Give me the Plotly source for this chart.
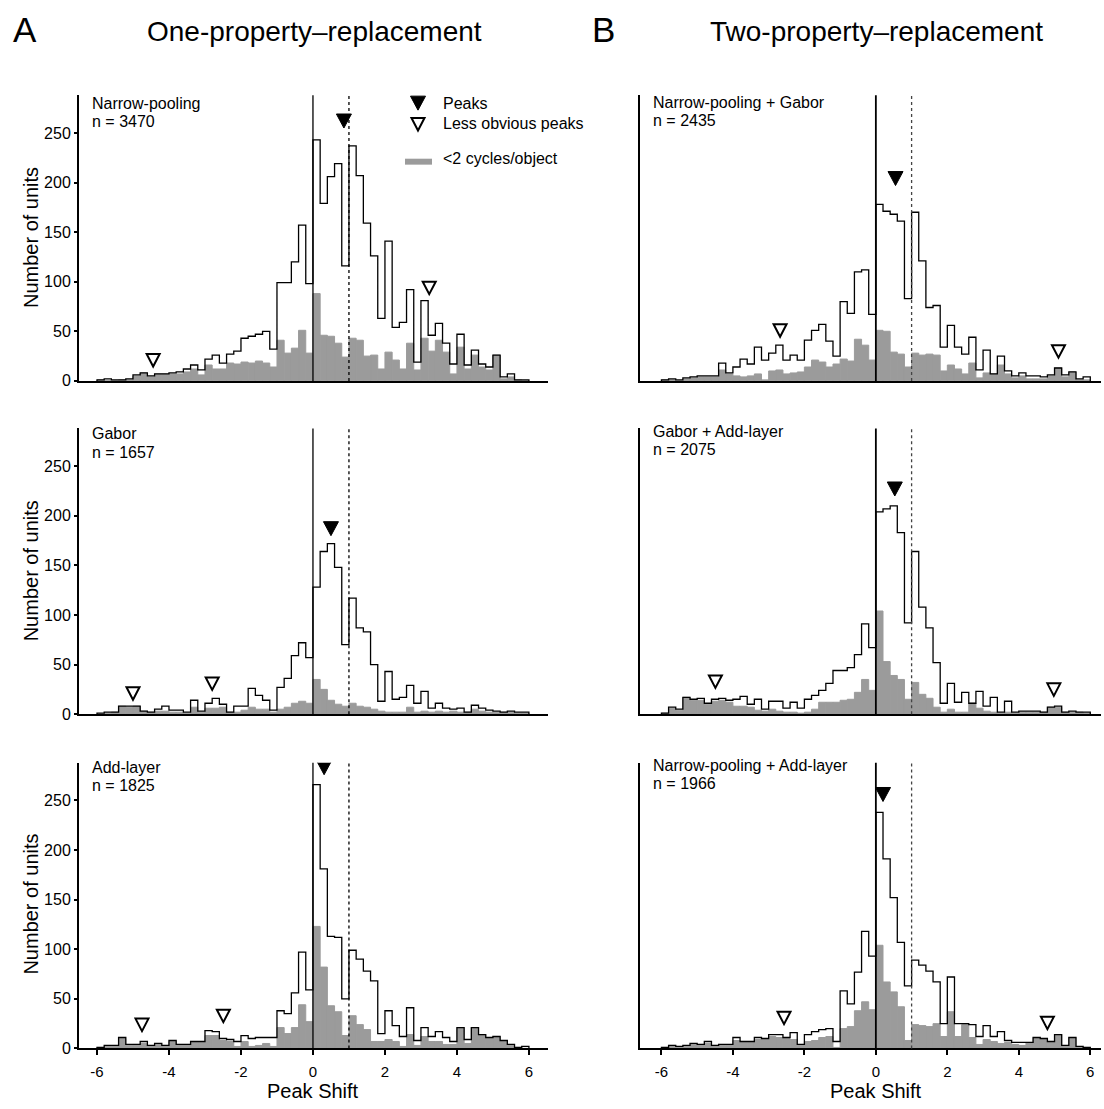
import numpy as np
import plotly.graph_objects as go

# ---------------- data ----------------
bin_edges = np.round(np.arange(-6.0, 6.0001, 0.2), 2)   # 60 bins of width 0.2

panel_names = ["Narrow-pooling", "Narrow-pooling + Gabor", "Gabor",
               "Gabor + Add-layer", "Add-layer", "Narrow-pooling + Add-layer"]
panel_n = ["n = 3470", "n = 2435", "n = 1657", "n = 2075", "n = 1825", "n = 1966"]

all_narrow = [1,2,1,1,2,6,8,5,7,7, 8,9,12,16,11,22,26,18,27,30,
              43,45,47,50,32,99,99,120,157,98, 243,179,206,219,116,237,207,159,126,63,
              141,54,59,92,19,81,46,58,38,17, 47,16,31,17,14,26,4,7,1,1]
low_narrow = [1,0,0,1,1,5,8,4,7,7, 7,7,9,12,6,16,12,12,18,17,
              19,18,20,18,14,41,28,33,51,28, 88,46,45,38,24,43,41,25,26,12,
              29,21,12,38,11,43,30,41,29,7, 34,12,26,14,11,26,2,4,1,0]

all_np_gabor = [1,2,1,3,4,5,5,5,18,8, 14,22,17,34,21,28,36,21,26,21,
                41,51,57,40,25,80,68,110,112,67, 178,171,168,161,83,170,121,74,76,34,
                56,34,27,44,11,31,7,25,10,5, 8,5,5,4,6,13,6,9,2,4]
low_np_gabor = [1,1,0,2,3,4,4,4,11,7, 5,4,5,7,1,10,11,7,8,9,
                14,21,19,14,17,22,20,42,36,21, 51,50,29,27,14,28,26,27,26,10,
                16,12,7,18,3,8,7,16,7,3, 5,2,2,2,5,13,4,9,1,1]

all_gabor = [1,2,2,8,8,8,3,2,5,8, 4,4,2,14,3,11,16,10,2,8,
             8,26,19,14,4,27,36,59,72,57, 128,164,172,148,70,117,87,83,50,13,
             43,15,17,29,11,23,6,11,6,5, 6,2,9,6,4,3,2,3,2,2]
low_gabor = [0,1,2,8,7,8,3,2,3,3, 2,2,1,7,2,6,6,7,2,2,
             4,7,5,5,2,5,7,11,13,11, 35,25,14,10,8,11,8,7,5,3,
             2,2,2,7,2,3,2,3,2,3, 2,2,5,3,2,2,2,2,1,1]

all_gabor_add = [1,7,5,17,15,16,11,15,16,14, 15,18,10,15,5,13,13,6,12,6,
                 15,19,24,31,44,44,47,60,91,67, 204,207,210,183,92,164,108,87,52,11,
                 31,12,22,11,23,8,17,2,13,2, 3,3,3,2,7,8,2,3,2,2]
low_gabor_add = [1,6,4,17,14,14,10,13,14,12, 8,8,7,4,3,5,3,2,2,1,
                 2,5,12,12,12,14,15,22,35,24, 104,53,39,35,15,32,20,16,7,2,
                 5,2,2,11,6,3,2,1,2,1, 2,2,2,2,7,7,2,2,2,1]

all_add = [1,3,3,11,4,4,7,3,5,3, 8,4,4,7,7,18,17,10,9,7,
           13,10,11,11,11,38,35,56,97,59, 266,181,113,112,50,99,90,78,68,15,
           38,23,12,41,8,21,12,17,11,7, 21,9,21,14,11,12,8,4,1,2]
low_add = [1,2,2,10,3,4,5,2,4,2, 7,4,4,7,6,13,13,8,7,2,
           7,2,3,5,2,21,15,21,44,27, 123,82,43,37,13,33,24,19,7,7,
           9,7,2,14,3,12,7,7,4,4, 21,5,21,14,10,12,7,3,1,0]

all_np_add = [1,3,2,3,5,4,7,3,4,4, 11,7,7,11,10,14,14,11,16,4,
              14,17,19,20,7,58,45,77,118,93, 238,191,152,107,63,89,84,78,67,25,
              72,25,25,24,12,23,12,17,8,6, 6,6,11,10,7,14,3,11,2,1]
low_np_add = [1,3,1,2,4,4,5,3,3,3, 8,7,7,9,9,12,11,10,9,3,
              7,8,11,12,1,20,22,38,47,39, 104,67,57,42,8,24,23,22,25,12,
              37,12,24,11,4,9,7,5,6,4, 3,6,11,10,7,14,2,11,1,1]

all_counts = [all_narrow, all_np_gabor, all_gabor, all_gabor_add, all_add, all_np_add]
low_counts = [low_narrow, low_np_gabor, low_gabor, low_gabor_add, low_add, low_np_add]

peak_x = [0.86, 0.55, 0.50, 0.53, 0.31, 0.20]
peak_y = [262, 204, 187, 227, 283, 256]
weak_x = [[-4.44, 3.23], [-2.68, 5.11], [-5.0, -2.8], [-4.49, 4.98], [-4.75, -2.49], [-2.57, 4.8]]
weak_y = [[21, 94], [51, 30], [21, 31], [33, 25], [24, 33], [31, 26]]

x_ticks = [-6, -4, -2, 0, 2, 4, 6]
x_tick_text = ["-6", "-4", "-2", "0", "2", "4", "6"]
y_ticks = [0, 50, 100, 150, 200, 250]
ref_line_x = 1.0

# ---------------- layout geometry ----------------
W, H = 1104, 1109
FONT = "Liberation Sans, Arial, sans-serif"
GRAY = "#9b9b9b"

col_px = [(79, 548), (640, 1101)]
col_range = [[-6.5, 6.53], [-6.6, 6.3]]
row_px = [(96, 384), (432, 720), (769, 1057)]

def px(x):
    return x / W

def py(y):
    return 1 - y / H

fig = go.Figure()
layout = dict(width=W, height=H, margin=dict(l=0, r=0, t=0, b=0),
              paper_bgcolor="white", plot_bgcolor="white", showlegend=False,
              barmode="overlay", font=dict(family=FONT, color="black"))
shapes, annotations = [], []

centers = (bin_edges[:-1] + 0.1).round(2)
tri_filled = "M-7.5,7 L7.5,7 L0,-7 Z"
tri_open = "M-6.5,6 L6.5,6 L0,-6.5 Z"

label_y = [(104, 122), (103, 121), (437, 456), (435, 453), (774, 792), (772, 790)]

for p in range(6):
    r, c = divmod(p, 2)
    k = p + 1
    xa = "x" if k == 1 else f"x{k}"
    ya = "y" if k == 1 else f"y{k}"
    xkey = "xaxis" if k == 1 else f"xaxis{k}"
    ykey = "yaxis" if k == 1 else f"yaxis{k}"
    x0, x1 = col_px[c]
    ytop, ybot = row_px[r]
    bottom = (r == 2)
    layout[xkey] = dict(domain=[px(x0), px(x1)], range=col_range[c], anchor=ya,
                        showline=True, linecolor="black", linewidth=2, mirror=False,
                        showgrid=False, zeroline=False,
                        ticks="outside" if bottom else "", ticklen=5, tickwidth=1.5,
                        tickcolor="black", tickvals=x_ticks, ticktext=x_tick_text,
                        ticklabelstandoff=4,
                        showticklabels=bottom, tickfont=dict(size=15, family=FONT))
    layout[ykey] = dict(domain=[py(ybot), py(ytop)], range=[0, 288], anchor=xa,
                        showline=True, linecolor="black", linewidth=2,
                        showgrid=False, zeroline=False,
                        ticks="outside" if c == 0 else "", ticklen=3, tickwidth=1.5,
                        tickcolor="black", tickvals=y_ticks,
                        showticklabels=(c == 0), tickfont=dict(size=16, family=FONT))

    # gray bars (<2 cycles/object)
    fig.add_trace(go.Bar(x=centers, y=low_counts[p], width=0.2, marker_color=GRAY,
                         marker_line=dict(color=GRAY, width=1.0), xaxis=xa, yaxis=ya))
    # outline histogram (all units)
    cnt = all_counts[p]
    sx = [bin_edges[0]] + list(bin_edges[:-1]) + [bin_edges[-1]]
    sy = [0] + list(cnt) + [0]
    fig.add_trace(go.Scatter(x=sx, y=sy, mode="lines", line=dict(color="black", width=1.3, shape="hv"),
                             xaxis=xa, yaxis=ya))

    # reference lines
    shapes.append(dict(type="line", xref=xa, yref=f"{ya} domain", x0=0, x1=0, y0=0, y1=1,
                       line=dict(color="black", width=1.3 if c == 0 else 1.8)))
    shapes.append(dict(type="line", xref=xa, yref=f"{ya} domain", x0=ref_line_x, x1=ref_line_x,
                       y0=0, y1=1, line=dict(color="black" if c == 0 else "#444444", width=1.3, dash="dot")))

    # peak markers
    shapes.append(dict(type="path", xref=xa, yref=ya, xsizemode="pixel", ysizemode="pixel",
                       xanchor=peak_x[p], yanchor=peak_y[p], path=tri_filled,
                       fillcolor="black", line=dict(color="black", width=1)))
    for wx, wy in zip(weak_x[p], weak_y[p]):
        shapes.append(dict(type="path", xref=xa, yref=ya, xsizemode="pixel", ysizemode="pixel",
                           xanchor=wx, yanchor=wy, path=tri_open,
                           fillcolor="white", line=dict(color="black", width=2)))

    # panel labels
    lx = x0 + 11
    annotations.append(dict(text=panel_names[p], xref="paper", yref="paper", x=px(lx), y=py(label_y[p][0]),
                            xanchor="left", yanchor="middle", showarrow=False, font=dict(size=16, family=FONT)))
    annotations.append(dict(text=panel_n[p], xref="paper", yref="paper", x=px(lx), y=py(label_y[p][1]),
                            xanchor="left", yanchor="middle", showarrow=False, font=dict(size=16, family=FONT)))

# axis titles
for yc in [240, 576, 912]:
    annotations.append(dict(text="Number of units", xref="paper", yref="paper", x=px(31), y=py(yc),
                            textangle=-90, xanchor="center", yanchor="middle", showarrow=False,
                            font=dict(size=20, family=FONT)))
for xc in [313, 876]:
    annotations.append(dict(text="Peak Shift", xref="paper", yref="paper", x=px(xc), y=py(1100),
                            xanchor="center", yanchor="middle", showarrow=False,
                            font=dict(size=20, family=FONT)))

# panel letters and column titles
annotations.append(dict(text="A", xref="paper", yref="paper", x=px(25), y=py(30), xanchor="center",
                        yanchor="middle", showarrow=False, font=dict(size=35, family=FONT)))
annotations.append(dict(text="B", xref="paper", yref="paper", x=px(603), y=py(30), xanchor="center",
                        yanchor="middle", showarrow=False, font=dict(size=35, family=FONT)))
annotations.append(dict(text="One-property\u2013replacement", xref="paper", yref="paper", x=px(314), y=py(32),
                        xanchor="center", yanchor="middle", showarrow=False, font=dict(size=28, family=FONT)))
annotations.append(dict(text="Two-property\u2013replacement", xref="paper", yref="paper", x=px(876), y=py(32),
                        xanchor="center", yanchor="middle", showarrow=False, font=dict(size=28, family=FONT)))

# legend (in panel A top)
shapes.append(dict(type="path", xref="paper", yref="paper", xsizemode="pixel", ysizemode="pixel",
                   xanchor=px(418), yanchor=py(104), path=tri_filled, fillcolor="black",
                   line=dict(color="black", width=1)))
shapes.append(dict(type="path", xref="paper", yref="paper", xsizemode="pixel", ysizemode="pixel",
                   xanchor=px(418), yanchor=py(125), path=tri_open, fillcolor="white",
                   line=dict(color="black", width=2)))
shapes.append(dict(type="rect", xref="paper", yref="paper", x0=px(405), x1=px(432), y0=py(166), y1=py(160),
                   fillcolor=GRAY, line=dict(width=0)))
for txt, yy in [("Peaks", 104), ("Less obvious peaks", 125), ("<2 cycles/object", 160)]:
    annotations.append(dict(text=txt.replace("<", "&lt;"), xref="paper", yref="paper", x=px(441), y=py(yy),
                            xanchor="left", yanchor="middle", showarrow=False, font=dict(size=16, family=FONT)))

layout["shapes"] = shapes
layout["annotations"] = annotations
fig.update_layout(**layout)
fig.write_html("out.html")
